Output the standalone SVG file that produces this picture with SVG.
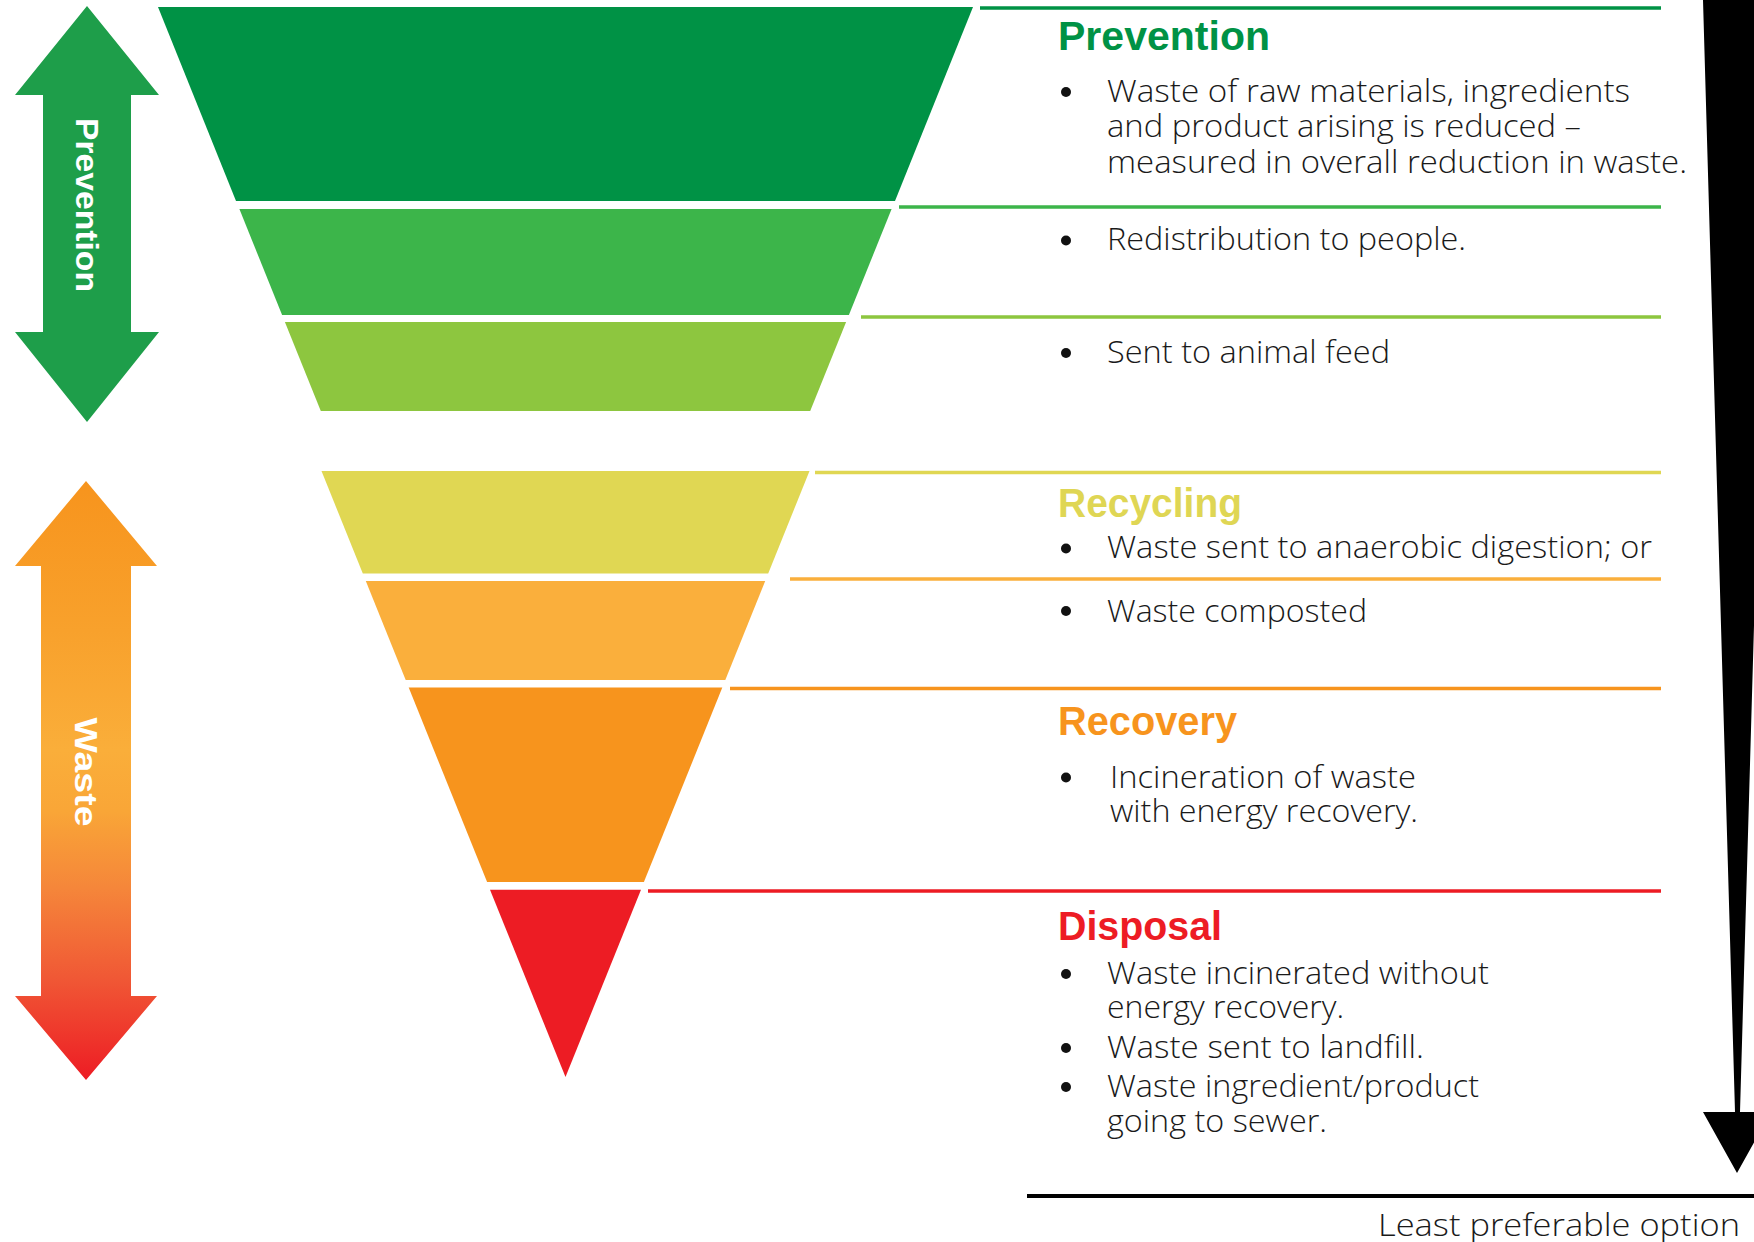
<svg xmlns="http://www.w3.org/2000/svg" width="1754" height="1242" viewBox="0 0 1754 1242">
  <defs>
    <linearGradient id="wasteGrad" x1="0" y1="481" x2="0" y2="1080" gradientUnits="userSpaceOnUse">
      <stop offset="0" stop-color="#f7941d"/>
      <stop offset="0.25" stop-color="#f8a12c"/>
      <stop offset="0.45" stop-color="#faae3a"/>
      <stop offset="0.55" stop-color="#f9a637"/>
      <stop offset="0.68" stop-color="#f5863a"/>
      <stop offset="0.83" stop-color="#f05835"/>
      <stop offset="1" stop-color="#ed1c24"/>
    </linearGradient>
    <style>
      .side { font-family: "Liberation Sans", Arial, sans-serif; font-weight: 700; font-size: 32px; fill: #ffffff; }
      .head { font-family: "Liberation Sans", Arial, sans-serif; font-weight: 700; font-size: 40px; }
      .body { font-family: "Open Sans", "Liberation Sans", Arial, sans-serif; font-weight: 300; font-size: 31px; fill: #1a1a1a; }
      .bullet { fill: #111111; }
      .lead { stroke-width: 3.5; fill: none; }
    </style>
  </defs>
  <rect width="1754" height="1242" fill="#ffffff"/>

  <!-- left double arrows -->
  <g id="arrow-prevention">
    <polygon points="87,6 159,95 131,95 131,332 159,332 87,422 15,332 43,332 43,95 15,95" fill="#1e9e4a"/>
    <text class="side" transform="translate(76,205) rotate(90)" text-anchor="middle" textLength="174" lengthAdjust="spacingAndGlyphs">Prevention</text>
  </g>
  <g id="arrow-waste">
    <polygon points="86,481 157,566 131,566 131,996 157,996 86,1080 15,996 41,996 41,566 15,566" fill="url(#wasteGrad)"/>
    <text class="side" transform="translate(75,772) rotate(90)" text-anchor="middle" textLength="109" lengthAdjust="spacingAndGlyphs">Waste</text>
  </g>

  <!-- funnel levels -->
  <g id="level-prevention">
    <polygon points="158,7 973,7 895,201 236,201" fill="#009245"/>
  </g>
  <g id="level-redistribution">
    <polygon points="239.4,209 891.6,209 848.9,315 282.1,315" fill="#3cb54a"/>
  </g>
  <g id="level-animal-feed">
    <polygon points="284.9,322 846.1,322 810.2,411 320.8,411" fill="#8dc63f"/>
  </g>
  <g id="level-anaerobic">
    <polygon points="321.5,471 809.5,471 768.2,573.5 362.8,573.5" fill="#e0d753"/>
  </g>
  <g id="level-composted">
    <polygon points="365.8,581 765.2,581 725.3,680 405.7,680" fill="#faaf3c"/>
  </g>
  <g id="level-recovery">
    <polygon points="408.7,687.6 722.3,687.6 643.9,882 487.1,882" fill="#f7941d"/>
  </g>
  <g id="level-disposal">
    <polygon points="490,889.7 641,889.7 565.5,1077" fill="#ed1c24"/>
  </g>

  <!-- leader lines -->
  <g id="connectors" class="lead">
    <line x1="980" y1="8" x2="1661" y2="8" stroke="#009245"/>
    <line x1="899" y1="207" x2="1661" y2="207" stroke="#3cb54a"/>
    <line x1="861" y1="317" x2="1661" y2="317" stroke="#8dc63f"/>
    <line x1="815" y1="472.5" x2="1661" y2="472.5" stroke="#e0d753"/>
    <line x1="790" y1="579" x2="1661" y2="579" stroke="#faaf3c"/>
    <line x1="730" y1="688.5" x2="1661" y2="688.5" stroke="#f7941d"/>
    <line x1="648" y1="891" x2="1661" y2="891" stroke="#ed1c24"/>
  </g>

  <!-- text blocks -->
  <g id="text-prevention">
    <text class="head" x="1058" y="50" fill="#009245" textLength="212" lengthAdjust="spacingAndGlyphs">Prevention</text>
    <circle class="bullet" cx="1066" cy="92" r="5"/>
    <text class="body" x="1107" y="102" textLength="523" lengthAdjust="spacingAndGlyphs">Waste of raw materials, ingredients</text>
    <text class="body" x="1107" y="137" textLength="474" lengthAdjust="spacingAndGlyphs">and product arising is reduced –</text>
    <text class="body" x="1107" y="173" textLength="580" lengthAdjust="spacingAndGlyphs">measured in overall reduction in waste.</text>
  </g>
  <g id="text-redistribution">
    <circle class="bullet" cx="1066" cy="240.5" r="5"/>
    <text class="body" x="1107" y="250" textLength="359" lengthAdjust="spacingAndGlyphs">Redistribution to people.</text>
  </g>
  <g id="text-animal-feed">
    <circle class="bullet" cx="1066" cy="353" r="5"/>
    <text class="body" x="1107" y="362.5" textLength="283" lengthAdjust="spacingAndGlyphs">Sent to animal feed</text>
  </g>
  <g id="text-recycling">
    <text class="head" x="1058" y="517" fill="#dfd654" textLength="184" lengthAdjust="spacingAndGlyphs">Recycling</text>
    <circle class="bullet" cx="1066" cy="548.5" r="5"/>
    <text class="body" x="1107" y="558" textLength="545" lengthAdjust="spacingAndGlyphs">Waste sent to anaerobic digestion; or</text>
  </g>
  <g id="text-composted">
    <circle class="bullet" cx="1066" cy="611" r="5"/>
    <text class="body" x="1107" y="621.5" textLength="260" lengthAdjust="spacingAndGlyphs">Waste composted</text>
  </g>
  <g id="text-recovery">
    <text class="head" x="1058" y="735" fill="#f7941d" textLength="179" lengthAdjust="spacingAndGlyphs">Recovery</text>
    <circle class="bullet" cx="1066" cy="777.5" r="5"/>
    <text class="body" x="1110" y="788" textLength="306" lengthAdjust="spacingAndGlyphs">Incineration of waste</text>
    <text class="body" x="1110" y="822" textLength="308" lengthAdjust="spacingAndGlyphs">with energy recovery.</text>
  </g>
  <g id="text-disposal">
    <text class="head" x="1058" y="940" fill="#ed1c24" textLength="164" lengthAdjust="spacingAndGlyphs">Disposal</text>
    <circle class="bullet" cx="1066" cy="974" r="5"/>
    <text class="body" x="1107" y="984" textLength="382" lengthAdjust="spacingAndGlyphs">Waste incinerated without</text>
    <text class="body" x="1107" y="1018" textLength="237" lengthAdjust="spacingAndGlyphs">energy recovery.</text>
    <circle class="bullet" cx="1066" cy="1048" r="5"/>
    <text class="body" x="1107" y="1058" textLength="317" lengthAdjust="spacingAndGlyphs">Waste sent to landfill.</text>
    <circle class="bullet" cx="1066" cy="1087" r="5"/>
    <text class="body" x="1107" y="1096.5" textLength="372" lengthAdjust="spacingAndGlyphs">Waste ingredient/product</text>
    <text class="body" x="1107" y="1131.5" textLength="220" lengthAdjust="spacingAndGlyphs">going to sewer.</text>
  </g>

  <!-- preference arrow -->
  <g id="preference-arrow">
    <polygon points="1703,0 1735,1112 1703,1112 1737,1173 1771,1112 1740,1112 1772,0" fill="#000000"/>
    <line x1="1027" y1="1196" x2="1754" y2="1196" stroke="#000000" stroke-width="4"/>
    <text class="body" x="1378" y="1236" textLength="362" lengthAdjust="spacingAndGlyphs">Least preferable option</text>
  </g>
</svg>
